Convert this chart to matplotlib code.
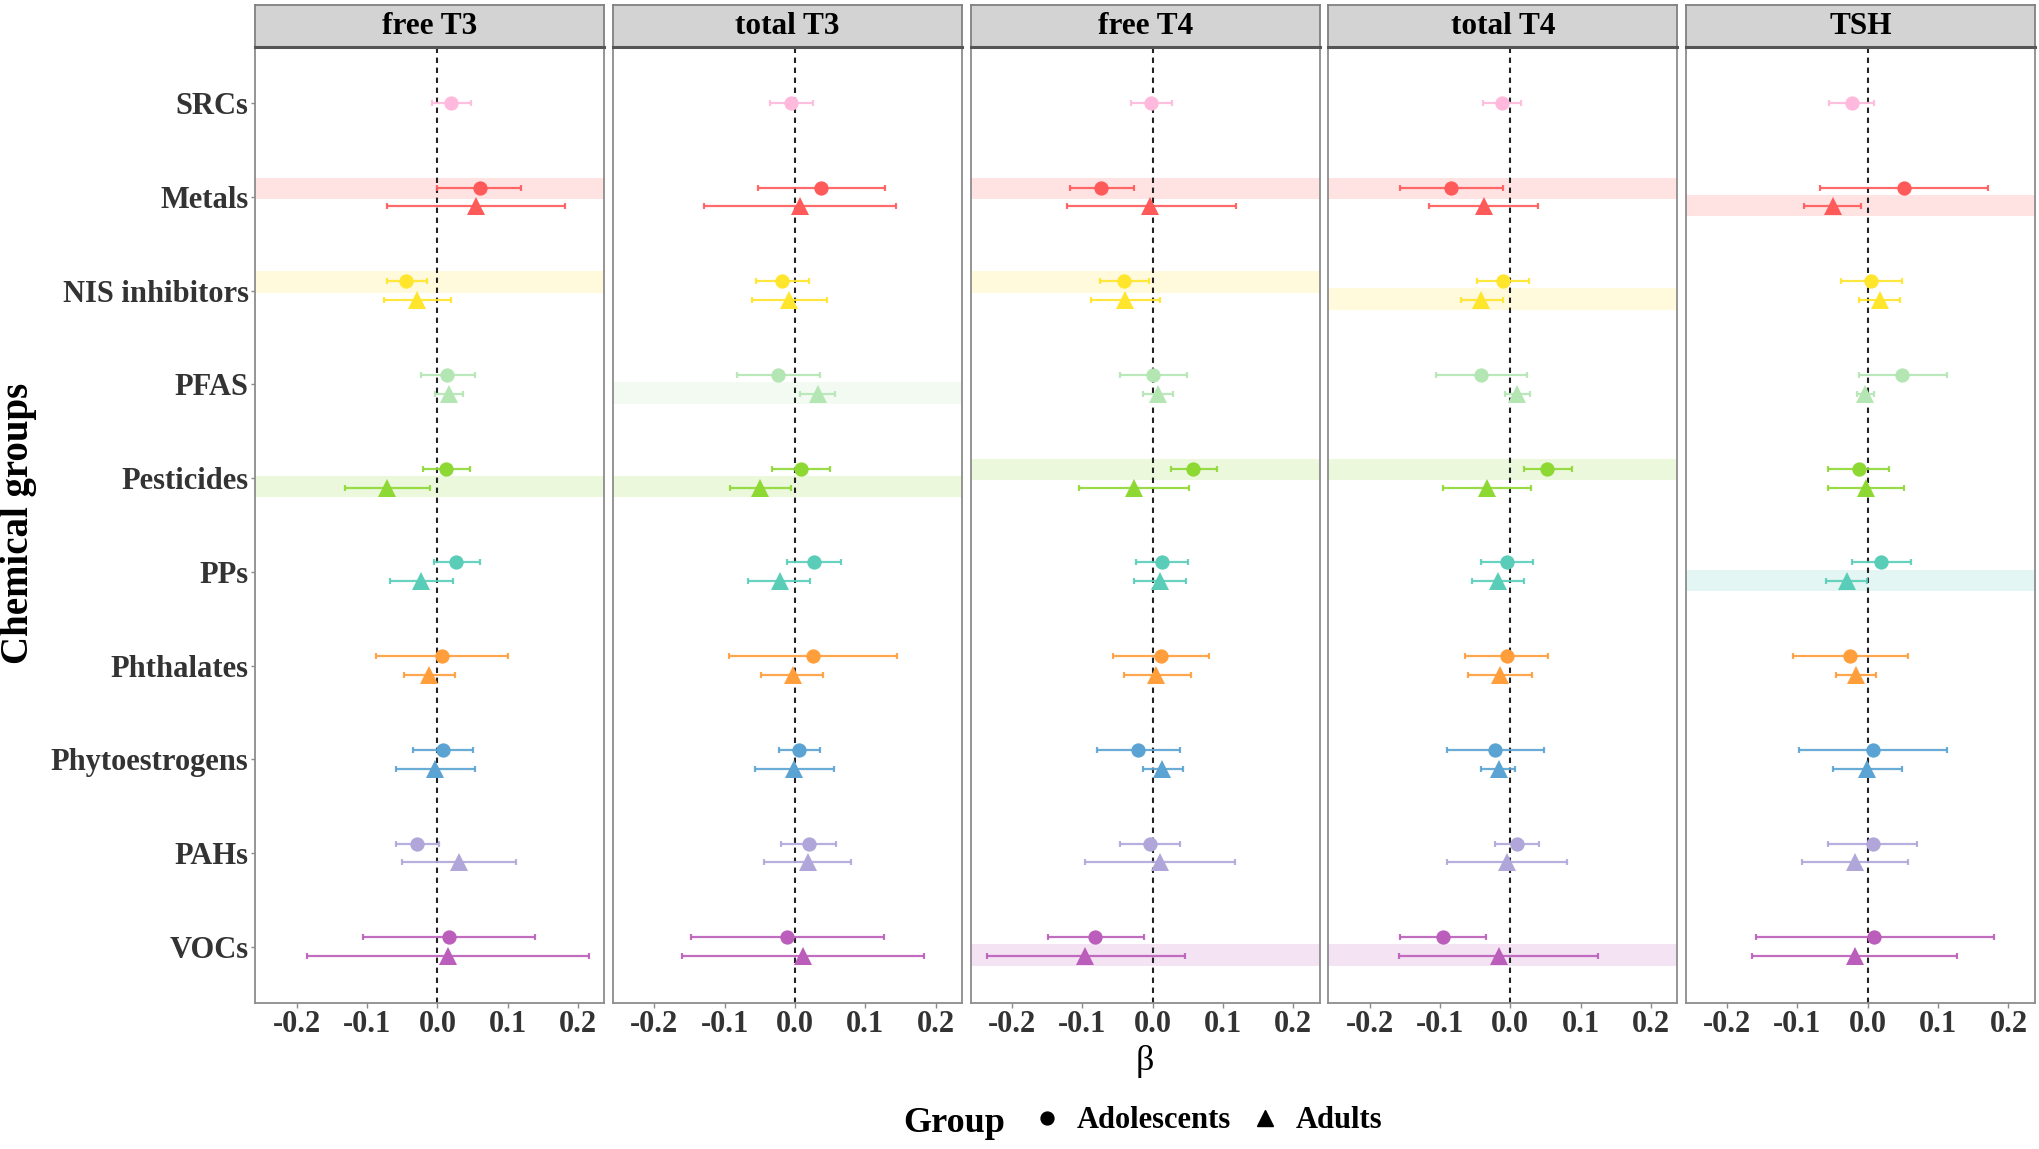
import matplotlib
matplotlib.use('Agg')
import matplotlib.pyplot as plt
from matplotlib.lines import Line2D
import numpy as np

plt.rcParams['font.family'] = ['Liberation Serif', 'DejaVu Serif']

nan = np.nan

categories = ['SRCs', 'Metals', 'NIS inhibitors', 'PFAS', 'Pesticides', 'PPs',
              'Phthalates', 'Phytoestrogens', 'PAHs', 'VOCs']
cat_colors = ['#FFB9DC', '#FF5A5A', '#FFE52B', '#B4E6B4', '#8ED834', '#5ACDB9',
              '#FF9E3B', '#5AA3D2', '#B0A6DA', '#BB5EBB']
outcomes = ['free T3', 'total T3', 'free T4', 'total T4', 'TSH']
groups = ['Adolescents', 'Adults']
x_ticks = [-0.2, -0.1, 0.0, 0.1, 0.2]
x_tick_labels = ['-0.2', '-0.1', '0.0', '0.1', '0.2']

# free T3
ft3_adol_beta = [0.020, 0.060, -0.044, 0.014, 0.012, 0.027, 0.0065, 0.008, -0.029, 0.016]
ft3_adol_lo = [-0.007, 0.000, -0.072, -0.023, -0.020, -0.005, -0.087, -0.035, -0.059, -0.106]
ft3_adol_hi = [0.048, 0.119, -0.015, 0.053, 0.046, 0.060, 0.101, 0.051, 0.003, 0.139]
ft3_adult_beta = [nan, 0.055, -0.029, 0.016, -0.072, -0.023, -0.012, -0.003, 0.031, 0.015]
ft3_adult_lo = [nan, -0.071, -0.076, -0.003, -0.132, -0.067, -0.048, -0.059, -0.051, -0.186]
ft3_adult_hi = [nan, 0.182, 0.019, 0.037, -0.010, 0.022, 0.025, 0.054, 0.112, 0.215]

# total T3
tt3_adol_beta = [-0.006, 0.037, -0.018, -0.024, 0.0085, 0.027, 0.025, 0.006, 0.020, -0.012]
tt3_adol_lo = [-0.036, -0.053, -0.055, -0.083, -0.032, -0.011, -0.094, -0.023, -0.020, -0.148]
tt3_adol_hi = [0.025, 0.128, 0.020, 0.035, 0.050, 0.065, 0.145, 0.036, 0.059, 0.127]
tt3_adult_beta = [nan, 0.0065, -0.0085, 0.033, -0.050, -0.022, -0.003, -0.001, 0.018, 0.012]
tt3_adult_lo = [nan, -0.129, -0.061, 0.007, -0.092, -0.067, -0.048, -0.057, -0.044, -0.160]
tt3_adult_hi = [nan, 0.143, 0.045, 0.057, -0.006, 0.022, 0.040, 0.055, 0.080, 0.183]

# free T4
ft4_adol_beta = [-0.002, -0.073, -0.040, 0.001, 0.058, 0.013, 0.012, -0.021, -0.004, -0.082]
ft4_adol_lo = [-0.031, -0.118, -0.075, -0.047, 0.026, -0.024, -0.056, -0.079, -0.046, -0.149]
ft4_adol_hi = [0.028, -0.027, -0.005, 0.049, 0.091, 0.050, 0.080, 0.039, 0.039, -0.012]
ft4_adult_beta = [nan, -0.003, -0.039, 0.008, -0.027, 0.010, 0.005, 0.014, 0.010, -0.096]
ft4_adult_lo = [nan, -0.122, -0.088, -0.014, -0.104, -0.026, -0.041, -0.014, -0.096, -0.236]
ft4_adult_hi = [nan, 0.118, 0.011, 0.029, 0.052, 0.048, 0.054, 0.043, 0.117, 0.046]

# total T4
tt4_adol_beta = [-0.012, -0.084, -0.010, -0.041, 0.053, -0.004, -0.005, -0.021, 0.009, -0.096]
tt4_adol_lo = [-0.039, -0.156, -0.047, -0.105, 0.020, -0.041, -0.064, -0.090, -0.022, -0.156]
tt4_adol_hi = [0.015, -0.010, 0.027, 0.024, 0.088, 0.033, 0.054, 0.048, 0.041, -0.034]
tt4_adult_beta = [nan, -0.037, -0.041, 0.009, -0.033, -0.018, -0.014, -0.016, -0.005, -0.016]
tt4_adult_lo = [nan, -0.115, -0.070, -0.008, -0.096, -0.055, -0.060, -0.041, -0.090, -0.158]
tt4_adult_hi = [nan, 0.040, -0.010, 0.028, 0.030, 0.020, 0.031, 0.007, 0.081, 0.125]

# TSH
tsh_adol_beta = [-0.023, 0.051, 0.005, 0.049, -0.013, 0.019, -0.025, 0.008, 0.007, 0.0095]
tsh_adol_lo = [-0.055, -0.068, -0.038, -0.012, -0.056, -0.023, -0.106, -0.098, -0.057, -0.159]
tsh_adol_hi = [0.0095, 0.171, 0.049, 0.112, 0.030, 0.062, 0.057, 0.112, 0.070, 0.179]
tsh_adult_beta = [nan, -0.050, 0.017, -0.004, -0.003, -0.030, -0.017, -0.0005, -0.018, -0.0185]
tsh_adult_lo = [nan, -0.090, -0.012, -0.016, -0.057, -0.059, -0.045, -0.049, -0.093, -0.164]
tsh_adult_hi = [nan, -0.010, 0.046, 0.009, 0.052, -0.001, 0.012, 0.048, 0.057, 0.127]

# highlighted estimates (outcome, chemical group, population group)
highlights = [
    ('free T3', 'Metals', 'Adolescents'),
    ('free T3', 'NIS inhibitors', 'Adolescents'),
    ('free T3', 'Pesticides', 'Adults'),
    ('total T3', 'PFAS', 'Adults'),
    ('total T3', 'Pesticides', 'Adults'),
    ('free T4', 'Metals', 'Adolescents'),
    ('free T4', 'NIS inhibitors', 'Adolescents'),
    ('free T4', 'Pesticides', 'Adolescents'),
    ('free T4', 'VOCs', 'Adults'),
    ('total T4', 'Metals', 'Adolescents'),
    ('total T4', 'NIS inhibitors', 'Adults'),
    ('total T4', 'Pesticides', 'Adolescents'),
    ('total T4', 'VOCs', 'Adults'),
    ('TSH', 'Metals', 'Adults'),
    ('TSH', 'PPs', 'Adults'),
]

data = {
    'free T3': {'Adolescents': (ft3_adol_beta, ft3_adol_lo, ft3_adol_hi),
                'Adults': (ft3_adult_beta, ft3_adult_lo, ft3_adult_hi)},
    'total T3': {'Adolescents': (tt3_adol_beta, tt3_adol_lo, tt3_adol_hi),
                 'Adults': (tt3_adult_beta, tt3_adult_lo, tt3_adult_hi)},
    'free T4': {'Adolescents': (ft4_adol_beta, ft4_adol_lo, ft4_adol_hi),
                'Adults': (ft4_adult_beta, ft4_adult_lo, ft4_adult_hi)},
    'total T4': {'Adolescents': (tt4_adol_beta, tt4_adol_lo, tt4_adol_hi),
                 'Adults': (tt4_adult_beta, tt4_adult_lo, tt4_adult_hi)},
    'TSH': {'Adolescents': (tsh_adol_beta, tsh_adol_lo, tsh_adol_hi),
            'Adults': (tsh_adult_beta, tsh_adult_lo, tsh_adult_hi)},
}

W, H = 2040, 1149
fig = plt.figure(figsize=(W / 100, H / 100), dpi=100)
fig.patch.set_facecolor('white')

panel_left0 = 255.5
panel_step = 357.6
panel_w = 349
panel_bottom = H - 1003
panel_top = H - 47
strip_top = H - 4.5

markers = {'Adolescents': 'o', 'Adults': '^'}
msize = {'Adolescents': 10.3, 'Adults': 12.5}
offset = {'Adolescents': -0.1, 'Adults': 0.1}

xlim = (-0.2586, 0.2376)
ypos = np.arange(1, len(categories) + 1)

border_col = '#8c8c8c'
text_col = '#333333'

for i, oc in enumerate(outcomes):
    left = panel_left0 + i * panel_step
    ax = fig.add_axes([left / W, panel_bottom / H, panel_w / W, (panel_top - panel_bottom) / H])
    ax.set_xlim(*xlim)
    ax.set_ylim(len(categories) + 0.6, 0.4)

    adult_beta = np.array(data[oc]['Adults'][0], dtype=float)
    has_adult = ~np.isnan(adult_beta)

    def ypos_for(g):
        if g == 'Adolescents':
            return np.where(has_adult, ypos + offset['Adolescents'], ypos)
        return ypos + offset['Adults']

    # highlight bands
    for (o, c, g) in highlights:
        if o != oc:
            continue
        k = categories.index(c)
        yc = ypos[k] + (-0.09 if g == 'Adolescents' else 0.09)
        ax.axhspan(yc - 0.115, yc + 0.115, color=cat_colors[k], alpha=0.17, lw=0, zorder=0)

    ax.axvline(0, color='#222222', lw=1.5, ls=(0, (2.6, 2.2)), zorder=2)

    for g in groups:
        beta, lo, hi = [np.array(a, dtype=float) for a in data[oc][g]]
        yy = ypos_for(g)
        for k in range(len(categories)):
            if np.isnan(beta[k]):
                continue
            ax.errorbar(beta[k], yy[k], xerr=[[beta[k] - lo[k]], [hi[k] - beta[k]]],
                        fmt='none', ecolor=cat_colors[k], elinewidth=1.6, capsize=2.0,
                        capthick=1.6, alpha=0.9, zorder=3)
            ax.plot(beta[k], yy[k], marker=markers[g], ms=msize[g], color=cat_colors[k],
                    mec=cat_colors[k], mew=0, ls='none', zorder=4)

    for s in ax.spines.values():
        s.set_color(border_col)
        s.set_linewidth(1.3)
    ax.set_xticks(x_ticks)
    ax.set_xticklabels(x_tick_labels, fontsize=22, fontweight='bold', color=text_col)
    ax.tick_params(axis='x', length=3.5, width=1, color=border_col, pad=1.5)
    if i == 0:
        ax.set_yticks(ypos)
        ax.set_yticklabels(categories, fontsize=22, fontweight='bold', color=text_col)
        ax.tick_params(axis='y', length=3.0, width=1, color=border_col, pad=2)
    else:
        ax.set_yticks([])

    # strip
    sax = fig.add_axes([left / W, panel_top / H, panel_w / W, (strip_top - panel_top) / H])
    sax.set_facecolor('#D3D3D3')
    sax.set_xticks([])
    sax.set_yticks([])
    for name, s in sax.spines.items():
        s.set_color('#808080')
        s.set_linewidth(1.3)
    sax.spines['bottom'].set_color('#555555')
    sax.spines['bottom'].set_linewidth(2.2)
    sax.text(0.5, 0.48, oc, transform=sax.transAxes, ha='center', va='center',
             fontsize=22.5, fontweight='bold', color='black')

# axis titles
fig.text(19 / W, (H - 523) / H, 'Chemical groups', rotation=90, ha='center', va='center',
         fontsize=28, fontweight='bold', color='black')
fig.text((panel_left0 + 2 * panel_step + panel_w / 2) / W, (H - 1062) / H, 'β',
         ha='center', va='center', fontsize=26, color='black')

# legend
fig.text(903 / W, 17 / H, 'Group', ha='left', va='baseline', fontsize=26,
         fontweight='bold', color='black')
handles = [Line2D([], [], marker=markers[g], ms=msize[g] * 0.9, color='black', ls='none')
           for g in groups]
fig.legend(handles, groups, loc='center left', bbox_to_anchor=(1016 / W, 28 / H),
           ncol=2, frameon=False, borderpad=0, handlelength=1.0, handletextpad=0.5,
           columnspacing=0.6, prop={'size': 22, 'weight': 'bold'})

fig.savefig('out.png', dpi=100, facecolor='white')
